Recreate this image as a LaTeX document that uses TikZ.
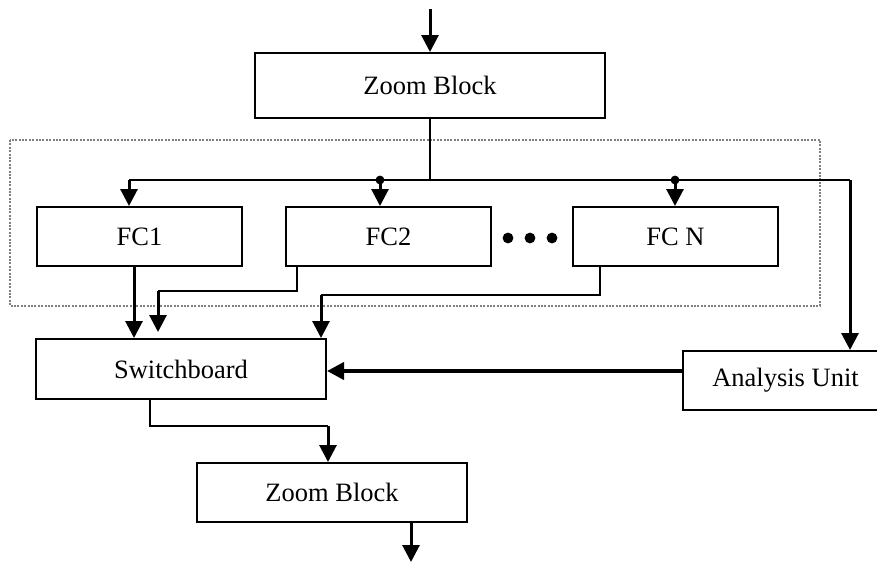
\documentclass[tikz,border=0pt]{standalone}
\usepackage{fontspec}
\setmainfont{Liberation Serif}
\usepackage{tikz}
\usetikzlibrary{positioning, calc, arrows.meta}

\begin{document}
\begin{tikzpicture}[
    x=0.5pt, y=-0.5pt,
    box/.style={draw, line width=1pt, minimum height=29.5pt, minimum width=102.5pt, align=center, inner sep=0pt, font=\fontsize{13.25}{15}\selectfont},
    wire/.style={line width=0.9pt},
    busline/.style={line width=1.1pt},
    arr/.style={-{Triangle[length=8.5pt, width=8.5pt]}, line width=1.5pt},
    frame/.style={draw=gray, line width=0.6pt, dash pattern=on 1pt off 0.7pt},
]
\useasboundingbox (0,0) rectangle (877,562);

% Zoom block at the top
\node[box, minimum width=175pt, minimum height=32.5pt] (zoomA) at (430,85.5) {Zoom Block};
\coordinate (src) at (430,9);
\draw[arr] (src) -- (zoomA.north);

% Bank of FC blocks
\draw[frame] (10,140) rectangle (820,306);
\node[box] (fc1) at (139.5,236.5) {FC1};
\node[box, right=21pt of fc1] (fc2) {FC2};
\node[box, right=40pt of fc2] (fcn) {FC N};
\foreach \dx in {508,530,552}
    \fill (\dx,238) circle (2.7pt);

% Switchboard and analysis
\node[box, minimum width=145pt, minimum height=30pt] (sw) at (181,369) {Switchboard};
\node[box, minimum width=102.5pt] (au) at (785.5,380.5) {Analysis Unit};

% Zoom block at the bottom
\node[box, minimum width=135pt] (zoomB) at (332,492.5) {Zoom Block};
\coordinate (out) at (411,562);
\draw[arr] ([xshift=39.5pt]zoomB.south) -- (out);

% Distribution bus
\coordinate (tap) at (430,180);
\coordinate (b1) at (129,180);
\coordinate (b2) at (380,180);
\coordinate (b3) at (675,180);
\coordinate (b4) at (850,180);
\draw[wire] (zoomA.south) -- (tap);
\draw[busline] (b1) -- (b4);
\draw[arr] (b1) -- (b1 |- fc1.north);
\draw[arr] (b2) -- (b2 |- fc2.north);
\draw[arr] (b3) -- (b3 |- fcn.north);
\fill (b2) circle (2.2pt);
\fill (b3) circle (2.2pt);
\draw[arr] (b4) -- (b4 |- au.north);

% FC outputs into switchboard
\coordinate (k2) at (158,291);
\coordinate (kn) at (321,295);
\draw[arr] ([xshift=-2.75pt]fc1.south) -- ([xshift=-2.75pt]fc1.south |- sw.north);
\draw[wire] ([xshift=6pt]fc2.south west) |- (k2);
\draw[arr, shorten >=3pt] (k2) -- (k2 |- sw.north);
\draw[wire] ([xshift=14pt]fcn.south west) |- (kn);
\draw[arr] (kn) -- (kn |- sw.north);

% Control from analysis unit
\draw[arr, line width=1.9pt] ([yshift=4.75pt]au.west) -- ([yshift=4.75pt]au.west -| sw.east);

% Switchboard to zoom block
\coordinate (k3) at (328,426);
\draw[wire] ([xshift=-15.5pt]sw.south) |- (k3);
\draw[arr] (k3) -- (k3 |- zoomB.north);

\end{tikzpicture}
\end{document}
